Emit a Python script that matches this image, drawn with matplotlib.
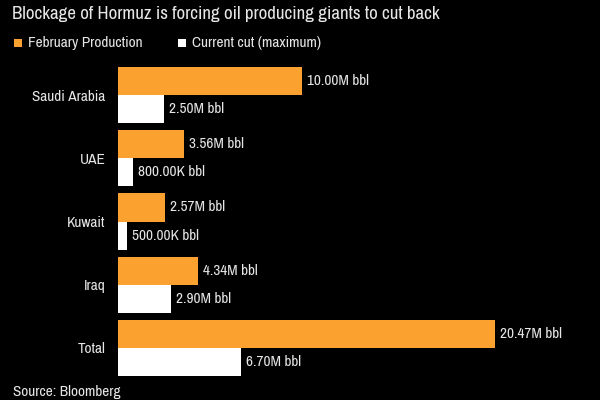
import numpy as np
import matplotlib
matplotlib.use("Agg")
import matplotlib.pyplot as plt
import matplotlib.patches as mpatches
from matplotlib import font_manager

countries = ["Saudi Arabia", "UAE", "Kuwait", "Iraq", "Total"]
feb_prod = [10.00, 3.56, 2.57, 4.34, 20.47]          # million bbl
current_cut = [2.50, 0.80, 0.50, 2.90, 6.70]          # million bbl
feb_labels = ["10.00M bbl", "3.56M bbl", "2.57M bbl", "4.34M bbl", "20.47M bbl"]
cut_labels = ["2.50M bbl", "800.00K bbl", "500.00K bbl", "2.90M bbl", "6.70M bbl"]

ORANGE = "#FBA12F"
WHITE = "#FFFFFF"
BG = "#000000"
TXT = "#E6E6E6"
FS = 11

# a narrow sans is closest to the Bloomberg font
narrow = sorted({f.name for f in font_manager.fontManager.ttflist
                 if "Narrow" in f.name or "Condensed" in f.name})
plt.rcParams["font.family"] = narrow[:1] + ["DejaVu Sans"]

fig = plt.figure(figsize=(6, 4), dpi=100, facecolor=BG)
# axes spans x 118..590 px, y 67..376 px
ax = fig.add_axes([118 / 600, 1 - 376 / 400, (590 - 118) / 600, (376 - 67) / 400])
ax.set_facecolor(BG)

h = 28 / 63
y = np.arange(len(countries))
ax.barh(y - h / 2, feb_prod, height=h, color=ORANGE, lw=0)
ax.barh(y + h / 2, current_cut, height=h, color=WHITE, lw=0)

ax.set_xlim(0, (590 - 118) / 18.4)
ax.set_ylim(len(countries) - 1 + h, -h)

off = 5 / 18.4
for i in range(len(countries)):
    ax.text(feb_prod[i] + off, y[i] - h / 2, feb_labels[i], color=TXT,
            fontsize=FS, va="center", ha="left")
    ax.text(current_cut[i] + off, y[i] + h / 2, cut_labels[i], color=TXT,
            fontsize=FS, va="center", ha="left")

ax.set_yticks(y)
ax.set_yticklabels(countries, color=TXT, fontsize=FS)
ax.tick_params(axis="y", length=0, pad=9)
ax.set_xticks([])
for s in ax.spines.values():
    s.set_visible(False)

# title
fig.text(12 / 600, 1 - 14 / 400, "Blockage of Hormuz is forcing oil producing giants to cut back",
         color=TXT, fontsize=13.6, va="center", ha="left")

# legend
for x0, col, lab in [(14, ORANGE, "February Production"), (178, WHITE, "Current cut (maximum)")]:
    fig.patches.append(mpatches.Rectangle((x0 / 600, 1 - 47 / 400), 8 / 600, 8 / 400,
                                          transform=fig.transFigure, color=col, lw=0))
    fig.text((x0 + 14) / 600, 1 - 43 / 400, lab, color=TXT, fontsize=FS,
             va="center", ha="left")

# source (sits at the very bottom edge)
fig.text(13 / 600, 1 / 400, "Source: Bloomberg", color=TXT, fontsize=FS,
         va="bottom", ha="left")

fig.savefig("out.png", dpi=100, facecolor=BG)
